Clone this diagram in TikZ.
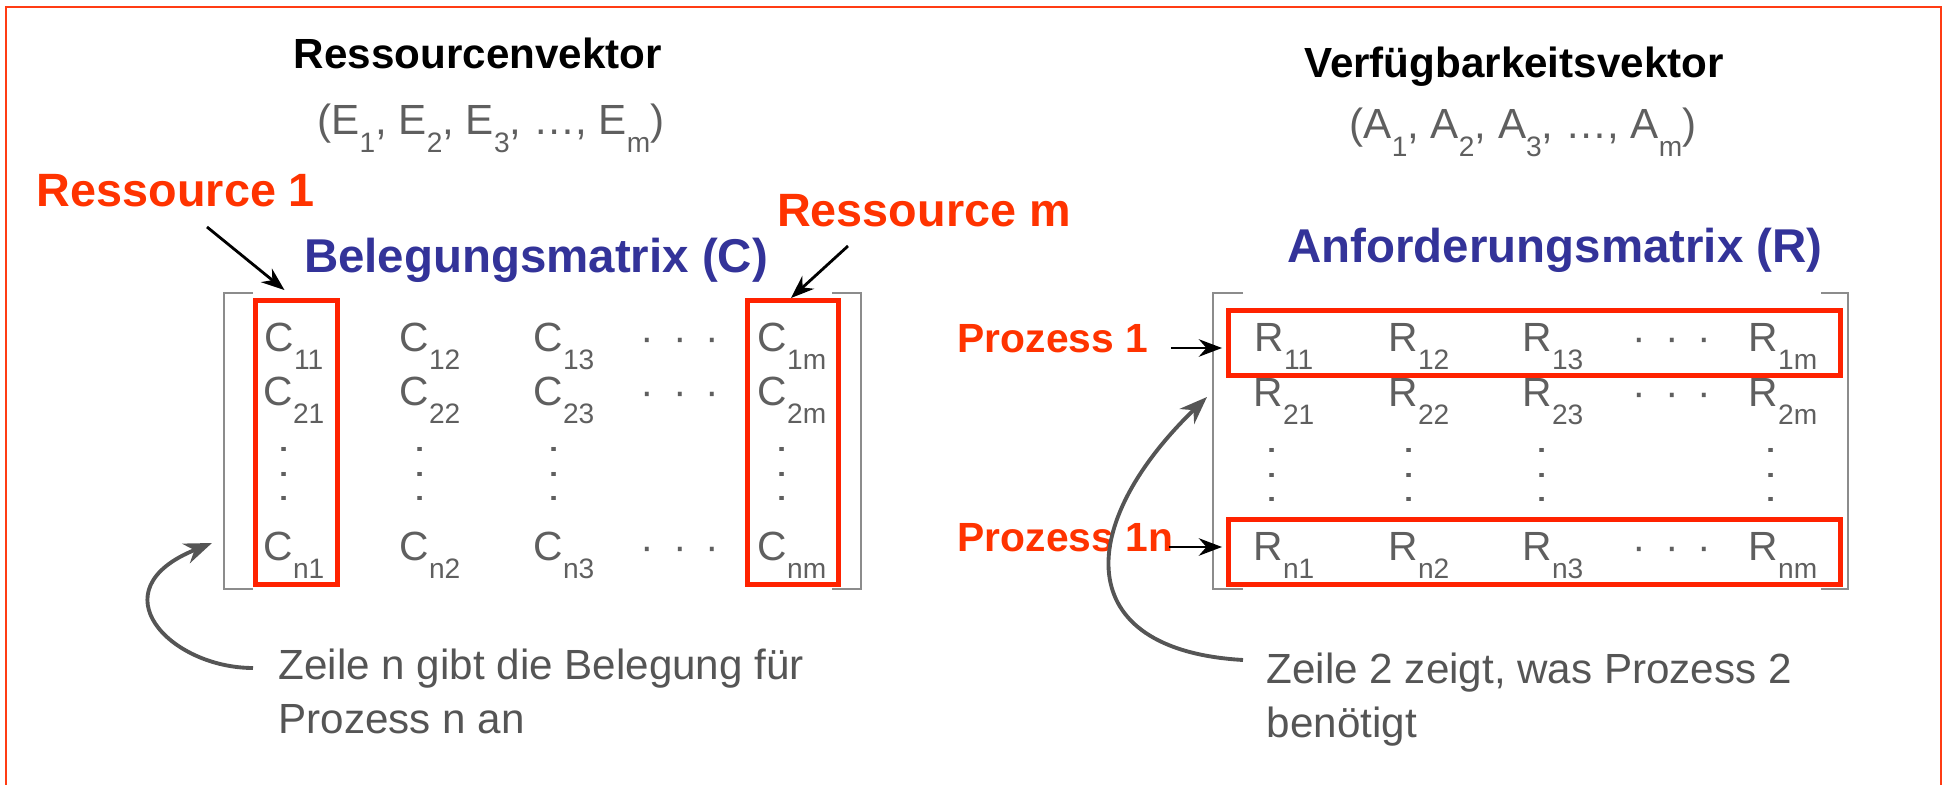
\documentclass[tikz,border=0pt]{standalone}
\usepackage{fontspec}
\setmainfont{Liberation Sans}
\usepackage{tikz}
\usetikzlibrary{arrows.meta, positioning, calc}

\definecolor{labelred}{RGB}{255,51,0}
\definecolor{boxred}{RGB}{255,34,0}
\definecolor{framered}{RGB}{255,60,20}
\definecolor{titleblue}{RGB}{51,51,153}
\definecolor{notegray}{RGB}{85,85,85}
\definecolor{entrygray}{RGB}{95,95,95}
\definecolor{bracketgray}{RGB}{140,140,140}

\newcommand{\idx}[1]{\raisebox{-5pt}{\fontsize{8}{9}\selectfont #1}}
\newcommand{\hdotsrow}{\textperiodcentered\hspace{0.46em}\textperiodcentered\hspace{0.46em}\textperiodcentered}
\newcommand{\vdotsrow}{\textperiodcentered\hspace{0.25em}\textperiodcentered\hspace{0.25em}\textperiodcentered}

\tikzset{
    titletext/.style={font=\bfseries\fontsize{12}{14}\selectfont, inner sep=0pt, anchor=base},
    vectext/.style={font=\fontsize{12}{14}\selectfont, text=entrygray, inner sep=0pt, anchor=base},
    redlabel/.style={font=\bfseries\fontsize{13.3}{15}\selectfont, text=labelred, inner sep=0pt, anchor=base},
    proclabel/.style={font=\bfseries\fontsize{11.6}{13}\selectfont, text=labelred, inner sep=0pt, anchor=base west},
    matrixtitle/.style={font=\bfseries\fontsize{13.5}{15}\selectfont, text=titleblue, inner sep=0pt, anchor=base},
    entry/.style={font=\fontsize{11.6}{14}\selectfont, text=entrygray, inner sep=0pt, anchor=base},
    vdotsnode/.style={font=\fontsize{12}{14}\selectfont, text=entrygray, inner sep=0pt, rotate=90},
    redbox/.style={draw=boxred, line width=1.4pt, inner sep=0pt},
    bracket/.style={draw=bracketgray, line width=0.8pt},
    note/.style={font=\fontsize{12}{15.4}\selectfont, text=notegray, align=left, inner sep=0pt, anchor=north west},
    ptr/.style={->, black, line width=0.8pt},
    curvearrow/.style={->, draw=notegray, line width=1.1pt},
}

\begin{document}
\begin{tikzpicture}[>=Stealth, x=0.1mm, y=-0.1mm]
    \useasboundingbox (0,0) rectangle (1943,785);
    % Rahmen
    \draw[framered, line width=0.8pt] (6,785) -- (6,7) -- (1941,7) -- (1941,785);

    % Vektoren
    \node[titletext] (evec_title) at (478,69) {Ressourcenvektor};
    \node[vectext] (evec) at (491,135) {(E\idx{1}, E\idx{2}, E\idx{3}, \ldots, E\idx{m})};
    \node[titletext] (avec_title) at (1514,78) {Verfügbarkeitsvektor};
    \node[vectext] (avec) at (1523,139) {(A\idx{1}, A\idx{2}, A\idx{3}, \ldots, A\idx{m})};

    % Belegungsmatrix
    \node[matrixtitle] (ctitle) at (536,273) {Belegungsmatrix (C)};
    \draw[bracket] (253,293) -- (224,293) -- (224,589) -- (253,589);
    \draw[bracket] (832,293) -- (861,293) -- (861,589) -- (832,589);
    \foreach \r/\y in {1/352, 2/406, n/561} {
        \foreach \c/\x in {1/294, 2/430, 3/564, m/792}
            \node[entry] (c\r\c) at (\x,\y) {C\idx{\r\c}};
        \node[entry] (cdots\r) at (680,\y) {\hdotsrow};
    }
    \foreach \c/\x in {1/294, 2/430, 3/564, m/792}
        \node[vdotsnode] (cvdots\c) at (\x-5,474) {\vdotsrow};
    \node[redbox, minimum width=0.82cm, minimum height=2.84cm] (col1) at (296.5,442.5) {};
    \node[redbox, minimum width=0.91cm, minimum height=2.84cm] (colm) at (793,442.5) {};

    % Anforderungsmatrix
    \node[matrixtitle] (rtitle) at (1555,263) {Anforderungsmatrix (R)};
    \draw[bracket] (1243,293) -- (1213,293) -- (1213,589) -- (1243,589);
    \draw[bracket] (1821,293) -- (1848,293) -- (1848,589) -- (1821,589);
    \foreach \r/\y in {1/352, 2/407, n/561} {
        \foreach \c/\x in {1/1284, 2/1419, 3/1553, m/1783}
            \node[entry] (r\r\c) at (\x,\y) {R\idx{\r\c}};
        \node[entry] (rdots\r) at (1672,\y) {\hdotsrow};
    }
    \foreach \c/\x in {1/1282, 2/1419, 3/1552, m/1781}
        \node[vdotsnode] (rvdots\c) at (\x-5,475) {\vdotsrow};
    \node[redbox, minimum width=6.12cm, minimum height=0.65cm] (row1) at (1534.5,343) {};
    \node[redbox, minimum width=6.12cm, minimum height=0.65cm] (rown) at (1534.5,552) {};

    % Beschriftungen
    \node[redlabel] (res1) at (176,207) {Ressource 1};
    \node[redlabel] (resm) at (924,227) {Ressource m};
    \node[proclabel] (pro1) at (957,353) {Prozess 1};
    \node[proclabel] (pro1n) at (957,552) {Prozess 1n};
    \draw[ptr] ($(res1.base)+(31,20)$) -- ($(col1.north)+(-12,-8)$);
    \draw[ptr] ($(resm.base)+(-76,19)$) -- ($(colm.north)+(-2,0)$);
    \draw[ptr] ($(pro1.base east)+(22,-5)$) -- ($(row1.west)+(-4,5)$);
    \draw[ptr] ($(pro1n.base east)+(-5,-5)$) -- ($(rown.west)+(-4,-5)$);

    % Erläuterungen
    \node[note] (cnote) at (278,648) {Zeile n gibt die Belegung für\\Prozess n an};
    \node[note] (rnote) at (1266,652) {Zeile 2 zeigt, was Prozess 2\\benötigt};
    \coordinate (ctip) at (212,543);
    \coordinate (rtip) at (1207,397);
    \draw[curvearrow] ($(cnote.north west)+(-25,20)$) .. controls (170,668) and (95,590) .. (ctip);
    \draw[curvearrow] ($(rnote.north west)+(-23,8)$) .. controls (1070,650) and (1075,525) .. (rtip);
\end{tikzpicture}
\end{document}
